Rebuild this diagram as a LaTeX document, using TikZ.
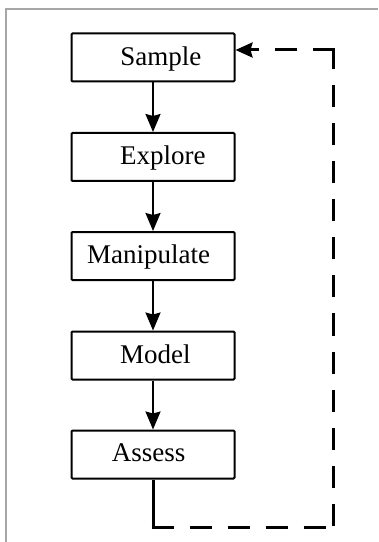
\documentclass[tikz,border=0pt]{standalone}
\usepackage{fontspec}
\setmainfont{Liberation Serif}
\usetikzlibrary{arrows.meta}
\begin{document}
\begin{tikzpicture}[x=1bp,y=-1bp,
  stepbox/.style={draw=black, line width=2bp, rounded corners=1bp,
    minimum width=163bp, minimum height=48bp, inner sep=0pt},
  steptext/.style={anchor=base, inner sep=0pt,
    font=\fontsize{27bp}{32bp}\selectfont},
  flow/.style={line width=2bp, -{Stealth[length=18bp,width=15bp,inset=2bp]}},
  loopline/.style={line width=3bp},
  loopdash/.style={line width=3bp, dash pattern=on 22bp off 16bp},
  frameline/.style={draw=black!35, line width=2bp}]
\useasboundingbox (0,0) rectangle (378,542);
% outer frame (top and left edges)
\draw[frameline] (378,9.5) -- (6,9.5) -- (6,542);
% process boxes
\node[stepbox] (sample) at (153,57.5) {};
\node[stepbox] (explore) at (153,157) {};
\node[stepbox] (manip) at (153,256) {};
\node[stepbox] (model) at (153,355.5) {};
\node[stepbox] (assess) at (153,454.5) {};
% labels
\node[steptext] (tsample) at (160.8,66) {Sample};
\node[steptext] (texplore) at (162.8,165) {Explore};
\node[steptext] (tmanip) at (148.7,263.5) {Manipulate};
\node[steptext] (tmodel) at (155.3,363.3) {Model};
\node[steptext] (tassess) at (148.7,461.7) {Assess};
% main flow
\draw[flow] (sample) -- (explore);
\draw[flow] (explore) -- (manip);
\draw[flow] (manip) -- (model);
\draw[flow] (model) -- (assess);
% feedback loop back to the first step
\coordinate (c1) at (153,527);
\coordinate (c2) at (333.5,527);
\coordinate (c3) at (333.5,50);
\draw[loopline] (assess.south) -- ([yshift=1.5bp]c1);
\draw[loopdash] ([xshift=-1.5bp]c1) -- ([xshift=1.5bp]c2);
\draw[loopdash] ([yshift=1.5bp]c2) -- ([yshift=-1.5bp]c3);
\draw[loopdash, -{Stealth[length=17bp,width=15bp,inset=2bp]}]
  ([xshift=1.5bp]c3) -- (sample.east |- c3);
\end{tikzpicture}
\end{document}
